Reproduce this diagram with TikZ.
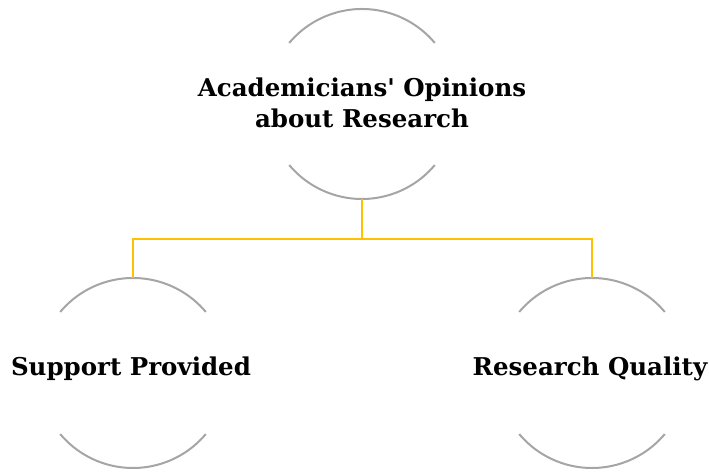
\documentclass[tikz,border=0pt]{standalone}
\usepackage{fontspec}
\setmainfont{DejaVu Serif}
\begin{document}
\begin{tikzpicture}[x=1bp,y=1bp]
\useasboundingbox (0,0) rectangle (709,472);
\definecolor{arcgray}{HTML}{A5A5A5}
\definecolor{connyellow}{HTML}{FFC000}
\tikzset{
  ring/.style={circle, minimum size=190bp, inner sep=0pt, outer sep=0pt},
  arcline/.style={draw=arcgray, line width=2bp},
  conn/.style={draw=connyellow, line width=2bp},
  lbl/.style={align=center, font=\fontsize{24.5bp}{31bp}\selectfont\bfseries, inner sep=0pt}
}
\node[ring] (top) at (362,368) {};
\node[ring] (left) at (133,99) {};
\node[ring] (right) at (592,99) {};
\node[lbl] (toptext) at (362,369) {Academicians\textquotesingle{} Opinions\\about Research};
\node[lbl] (lefttext) at (131,103) {Support Provided};
\node[lbl] (righttext) at (590,103) {Research Quality};
\foreach \n in {top,left,right}{
  \draw[arcline] (\n.40) arc[start angle=40, end angle=140, radius=95bp];
  \draw[arcline] (\n.220) arc[start angle=220, end angle=320, radius=95bp];
}
\coordinate (bus) at (362,233);
\draw[conn] (top.south) -- (bus);
\draw[conn] (bus) -| (left.north);
\draw[conn] (bus) -| (right.north);
\end{tikzpicture}
\end{document}
